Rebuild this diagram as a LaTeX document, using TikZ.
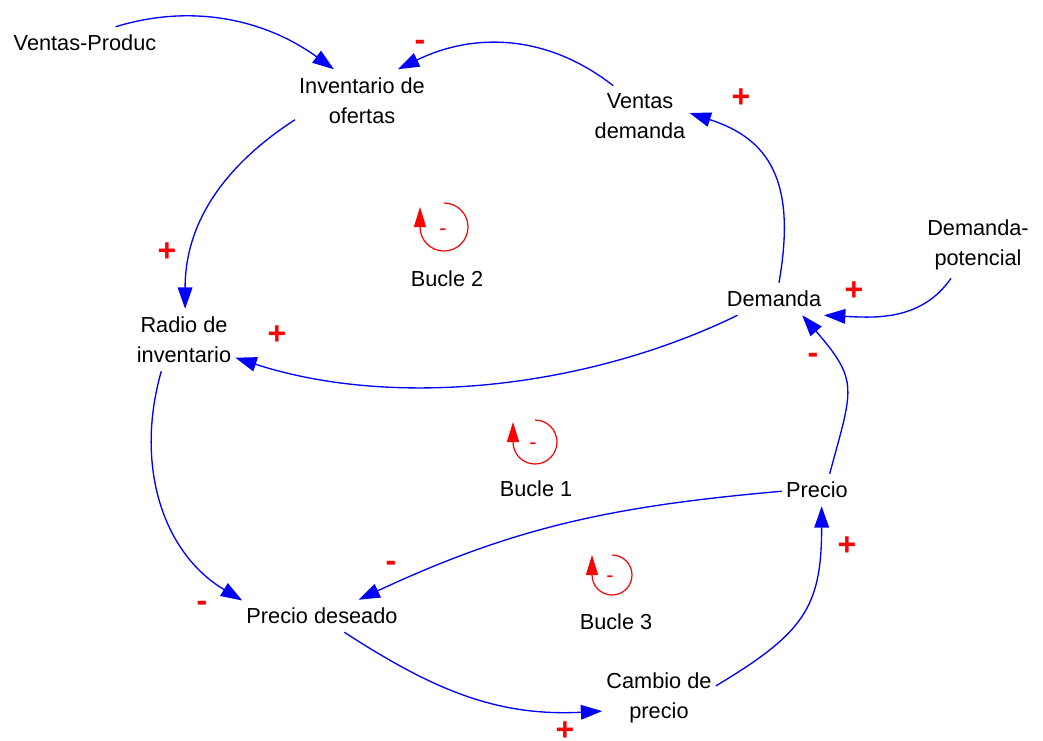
\documentclass[tikz,border=0pt]{standalone}
\usepackage{fontspec}
\setmainfont{Liberation Sans}
\usetikzlibrary{arrows.meta}
\tikzstyle{Link} = [
%causal link between two variables
blue, line width=1pt,
-{Triangle[length=16pt, width=11pt]}
]
\tikzstyle{Turn} = [
%round arrow of a loop
red, line width=0.9pt,
-{Triangle[length=15pt, width=9pt]}
]

\begin{document}
\begin{tikzpicture}[x=0.75pt, y=0.75pt,
				varbox/.style = {align=center, inner xsep=3pt, inner ysep=6pt, font=\fontsize{16.3}{22.5}\selectfont},
				sign/.style = {red, inner sep=0pt, font=\fontsize{24}{24}\selectfont\bfseries},
				turnsign/.style = {red, inner sep=0pt, font=\fontsize{16.3}{16.3}\selectfont},
			]
			\useasboundingbox (0,0) rectangle (1043,-740);

			\node[varbox](vp) at (85,-43){Ventas-Produc};
			\node[varbox](inv) at (362,-100.5){Inventario de\\ofertas};
			\node[varbox](vd) at (640,-116.5){Ventas\\demanda};
			\node[varbox](dp) at (978,-245){Demanda-\\potencial};
			\node[varbox](dem) at (774,-299){Demanda};
			\node[varbox](rad) at (184,-340){Radio de\\inventario};
			\node[varbox](pre) at (817,-490){Precio};
			\node[varbox](pd) at (322,-616){Precio deseado};
			\node[varbox](cp) at (659,-698){Cambio de\\precio};
			\node[varbox](b2) at (447,-279){Bucle 2};
			\node[varbox](b1) at (536,-489){Bucle 1};
			\node[varbox](b3) at (616,-622){Bucle 3};

			\draw[Link](vp.28) to[out=17, in=144, looseness=0.95](inv.132);
			\draw[Link](vd.131) to[out=142, in=26](inv.41);
			\draw[Link](inv.196) to[out=213, in=90](rad.88);
			\draw[Link](dem.73) to[out=80, in=-18, out looseness=1.4, in looseness=1.1](vd.4);
			\draw[Link](dp.231) to[out=235, in=-3](dem.-18);
			\draw[Link](dem.204) to[out=206, in=-18, looseness=0.85](rad.-19);
			\draw[Link](pre.52) to[out=75, in=-49, looseness=1.4](dem.-30);
			\draw[Link](rad.234) to[out=254, in=149](pd.169);
			\draw[Link](pre.182) to[out=185, in=25](pd.24);
			\draw[Link](pd.-36) to[out=-33, in=183](cp.193);
			\draw[Link](cp.12) to[out=31, in=-90, looseness=1.25](pre.-74);

			\node[sign](s1) at (420,-45.7){-};
			\node[sign](s2) at (741,-98){+};
			\node[sign](s3) at (167,-252){+};
			\node[sign](s4) at (277,-335){+};
			\node[sign](s5) at (854,-291){+};
			\node[sign](s6) at (813,-358.7){-};
			\node[sign](s7) at (391,-566.7){-};
			\node[sign](s8) at (202,-606.7){-};
			\node[sign](s9) at (847,-546){+};
			\node[sign](s10) at (565,-731){+};

			\coordinate(l2) at (444,-227);
			\coordinate(l1) at (535,-442);
			\coordinate(l3) at (612,-575);
			\draw[Turn](l2) ++(0,24) arc[start angle=90, end angle=-180, radius=24] -- ++(0,20);
			\draw[Turn](l1) ++(0,22) arc[start angle=90, end angle=-180, radius=22] -- ++(0,20);
			\draw[Turn](l3) ++(0,20) arc[start angle=90, end angle=-180, radius=20] -- ++(0,20);
			\node[turnsign](m2) at (443,-232.4){-};
			\node[turnsign](m1) at (533,-446.4){-};
			\node[turnsign](m3) at (610,-579.4){-};

		\end{tikzpicture}
\end{document}
